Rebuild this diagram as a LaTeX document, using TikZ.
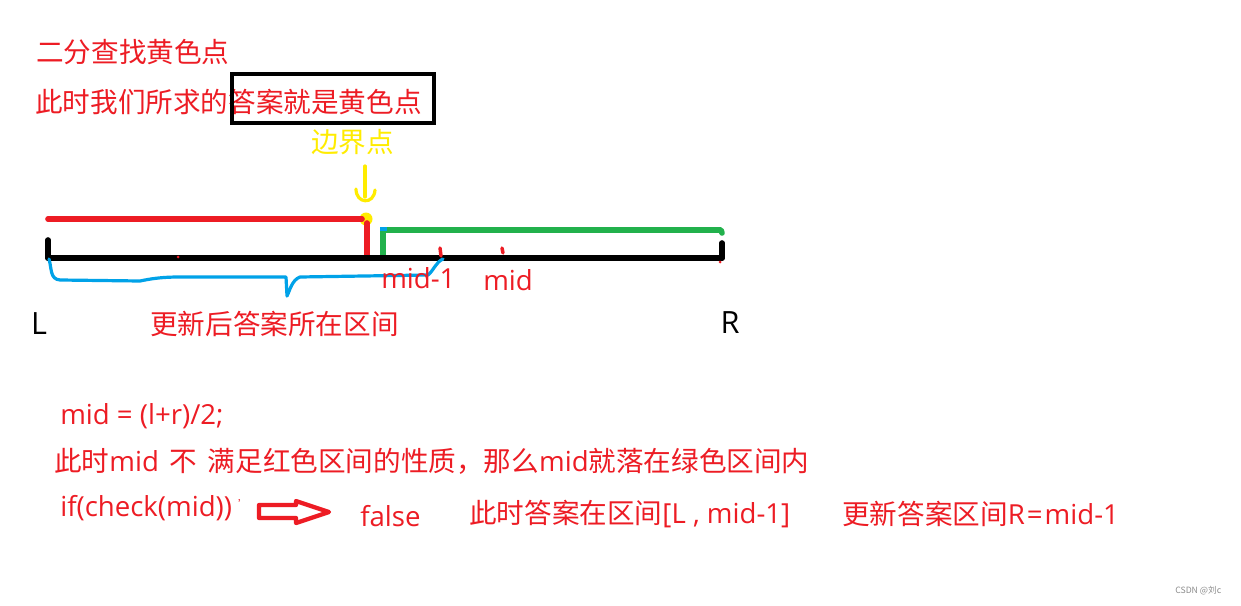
\documentclass[tikz,border=0pt]{standalone}
\usepackage{fontspec}
\setmainfont{Noto Sans CJK SC}
\newfontfamily\latf{Open Sans}
\newcommand{\lt}[1]{{\latf #1}}
\newcommand{\myspc}{\hspace{8pt}}
\definecolor{pred}{RGB}{237,28,36}
\definecolor{pgreen}{RGB}{34,177,76}
\definecolor{pblue}{RGB}{0,162,232}
\definecolor{pyellow}{RGB}{255,236,0}
\begin{document}
\begin{tikzpicture}[x=0.75pt,y=-0.75pt,
  txt/.style={anchor=west,inner sep=0pt,text=pred,font=\fontsize{20.7}{25}\selectfont},
  big/.style={anchor=center,inner sep=0pt,text=black,font=\latf\fontsize{23}{28}\selectfont},
  pen/.style={line width=4.2pt,line cap=round,line join=round}]
\useasboundingbox[fill=white] (0,0) rectangle (1241,606);
% top texts
\node[txt] (t1) at (36,52) {二分查找黄色点};
\node[txt] (t2) at (35,102) {此时我们所求的答案就是黄色点};
\draw[line width=3.2pt] (232,74) rectangle (434,123);
\node[txt,text=pyellow] (t3) at (311,142) {边界点};
% yellow hand drawn arrow
\draw[pyellow,line width=2.4pt,line cap=round] (365,166) -- (365,197);
\draw[pyellow,line width=2.4pt,line cap=round] (356,189) .. controls (356,204) and (374,205) .. (375,190);
\fill[pyellow] (366,219) circle (6.5);
% red segment
\draw[pred,pen] (48,219) -- (362,219);
\draw[pred,pen] (367,223) -- (367,257);
% green segment
\draw[pgreen,pen] (383,256) -- (383,230) -- (721,230) -- (722,233);
\fill[pblue] (380,227) rectangle (387,231);
% black axis
\draw[black,pen] (48,258) -- (722,258);
\draw[black,pen] (48,240) -- (48,258);
\draw[black,pen] (722,243) -- (722,258);
\draw[black,line width=2.8pt] (292,257) -- (299,257);
% red ticks
\draw[pred,line width=2.6pt,line cap=round] (440,248) -- (441,256);
\draw[pred,line width=2.6pt,line cap=round] (502,248) -- (503,253);
\fill[pred] (720,262) circle (1.5);
\fill[pred] (178,257) circle (1.5);
% blue bracket
\draw[pblue,line width=2.4pt,line join=round,line cap=round]
  (49,259) .. controls (52,270) and (50,279) .. (60,280)
  -- (140,281) .. controls (150,279) and (160,277) .. (180,277)
  -- (286,277) -- (287,296) .. controls (290,290) and (292,280) .. (300,277)
  -- (428,275) .. controls (434,270) and (436,262) .. (443,259);
% labels
\node[txt] (m1) at (381,278) {\lt{mid-1}};
\node[txt] (m2) at (483,280) {\lt{mid}};
\node[big] (L) at (39,324) {L};
\node[big] (R) at (730,323) {R};
\node[txt] (t4) at (150,324) {更新后答案所在区间};
% bottom texts
\node[txt] (b1) at (60,416) {\lt{mid = (l+r)/2;}};
\node[txt] (b2) at (54,461) {此时\lt{mid}\myspc 不\myspc 满足红色区间的性质，那么\lt{mid}就落在绿色区间内};
\node[txt] (b3) at (60,508) {\lt{if(check(mid))} \raisebox{0.5ex}{\fontsize{8}{8}\selectfont '}};
\draw[pred,line width=3.2pt,line join=round]
  (259,505) -- (296,505) -- (296,501) -- (329,512) -- (296,523) -- (296,518) -- (259,518) -- cycle;
\node[txt] (b4) at (360,516) {\lt{false}};
\node[txt] (b5) at (469,514) {此时答案在区间\lt{[L , mid-1]}};
\node[txt] (b6) at (842,514) {更新答案区间\lt{R\hspace{1.5pt}=\hspace{1.5pt}mid-1}};
\node[anchor=west,inner sep=0pt,text=black!45,font=\fontsize{6.5}{8}\selectfont] (wm) at (1175,591) {CSDN @刘c};
\end{tikzpicture}
\end{document}
